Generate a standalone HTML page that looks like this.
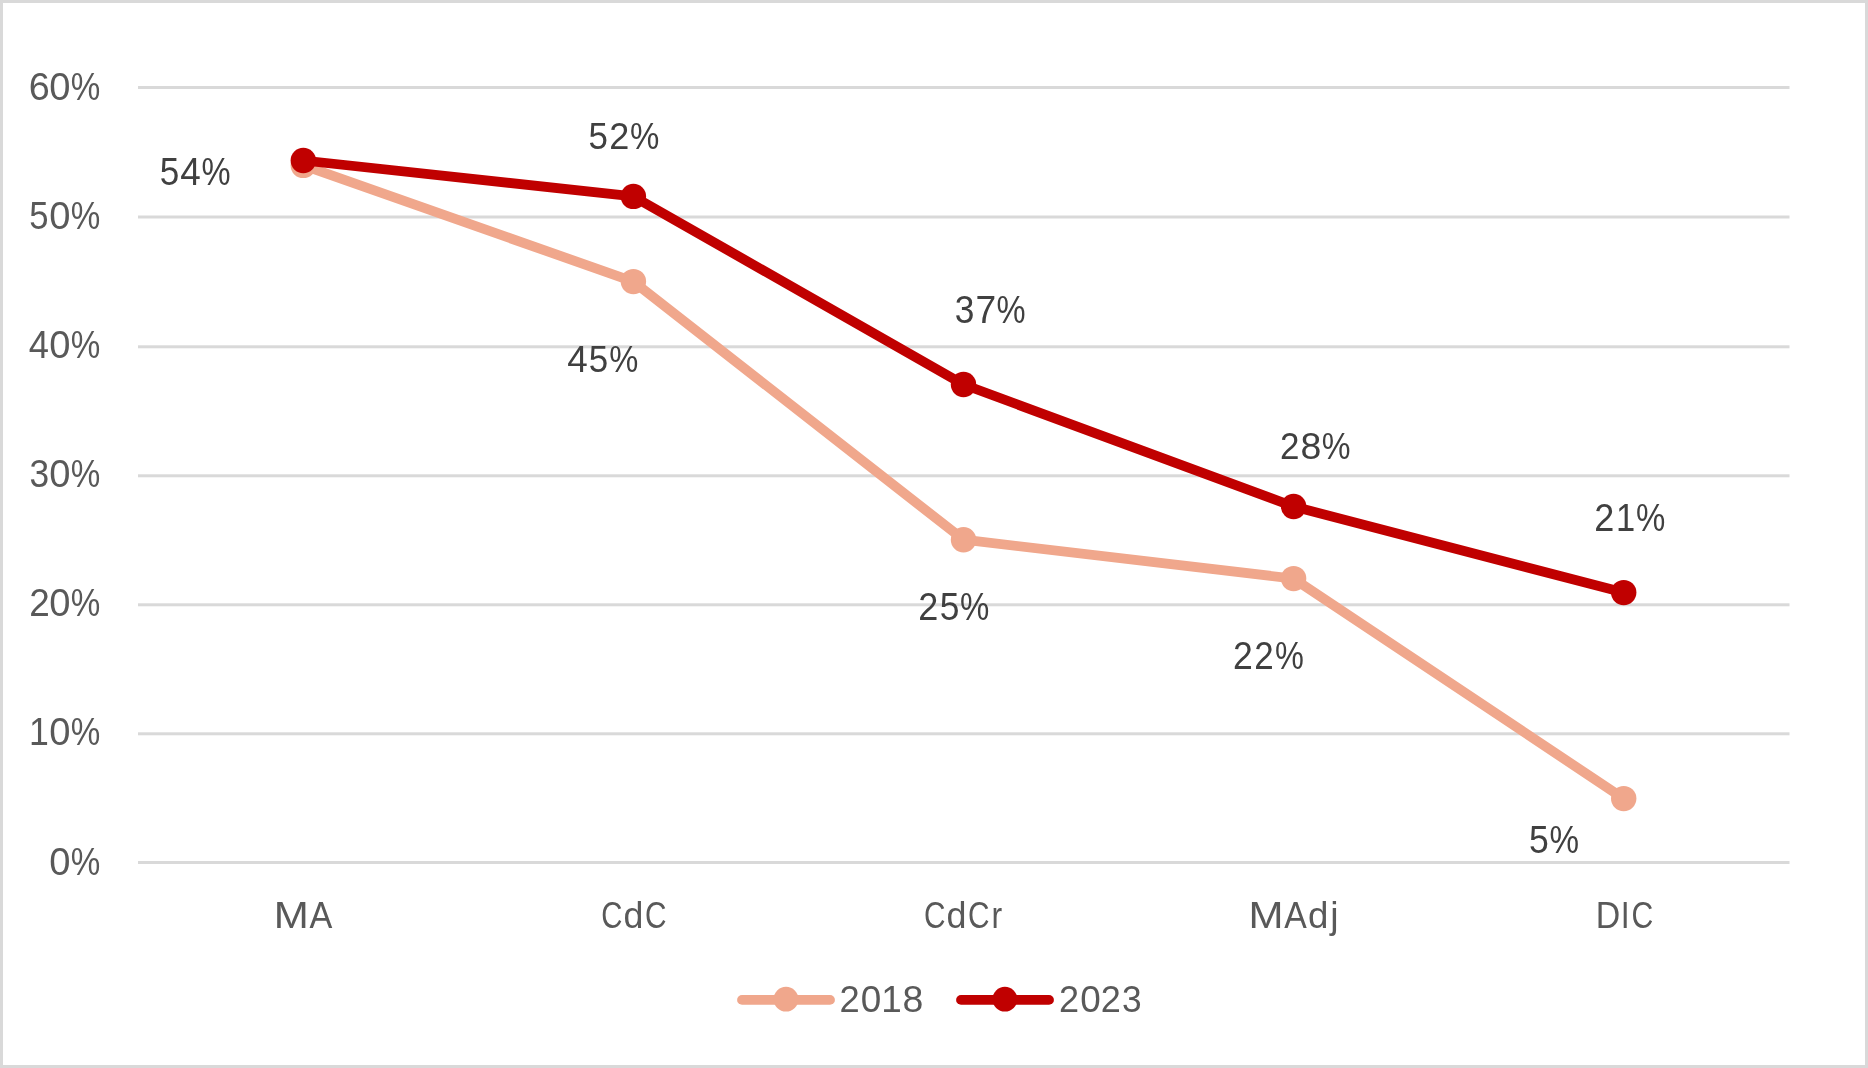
<!DOCTYPE html>
<html><head><meta charset="utf-8"><title>Chart</title>
<style>html,body{margin:0;padding:0;background:#fff;overflow:hidden;}svg{display:block;will-change:transform;}text{font-family:"Liberation Sans",sans-serif;font-size:100px;}</style>
</head><body>
<svg width="1868" height="1068" viewBox="0 0 1868 1068">
<rect x="1.5" y="1.5" width="1865" height="1065" fill="#fff" stroke="#D9D9D9" stroke-width="3"/>
<rect x="138" y="86.00" width="1651.5" height="3" fill="#D9D9D9"/>
<rect x="138" y="215.50" width="1651.5" height="3" fill="#D9D9D9"/>
<rect x="138" y="345.30" width="1651.5" height="3" fill="#D9D9D9"/>
<rect x="138" y="474.30" width="1651.5" height="3" fill="#D9D9D9"/>
<rect x="138" y="603.30" width="1651.5" height="3" fill="#D9D9D9"/>
<rect x="138" y="732.30" width="1651.5" height="3" fill="#D9D9D9"/>
<rect x="138" y="861.00" width="1651.5" height="3" fill="#D9D9D9"/>
<g fill="#595959" aria-label="60%"><text transform="matrix(0.37826 0 0 0.38028 28.81 99.62)">6</text><text transform="matrix(0.38125 0 0 0.38028 49.37 99.62)">0</text><text transform="matrix(0.33210 0 0 0.38028 70.67 99.62)">%</text></g>
<g fill="#595959" aria-label="50%"><text transform="matrix(0.34681 0 0 0.38028 29.31 228.79)">5</text><text transform="matrix(0.38125 0 0 0.38028 49.37 228.79)">0</text><text transform="matrix(0.33210 0 0 0.38028 70.67 228.79)">%</text></g>
<g fill="#595959" aria-label="40%"><text transform="matrix(0.36275 0 0 0.38028 28.87 357.95)">4</text><text transform="matrix(0.38125 0 0 0.38028 49.37 357.95)">0</text><text transform="matrix(0.33210 0 0 0.38028 70.67 357.95)">%</text></g>
<g fill="#595959" aria-label="30%"><text transform="matrix(0.35319 0 0 0.38028 29.59 487.12)">3</text><text transform="matrix(0.38125 0 0 0.38028 49.37 487.12)">0</text><text transform="matrix(0.33210 0 0 0.38028 70.67 487.12)">%</text></g>
<g fill="#595959" aria-label="20%"><text transform="matrix(0.36957 0 0 0.38028 29.15 616.29)">2</text><text transform="matrix(0.38125 0 0 0.38028 49.37 616.29)">0</text><text transform="matrix(0.33210 0 0 0.38028 70.67 616.29)">%</text></g>
<g fill="#595959" aria-label="10%"><text transform="matrix(0.35667 0 0 0.38028 28.98 745.45)">1</text><text transform="matrix(0.38125 0 0 0.38028 49.37 745.45)">0</text><text transform="matrix(0.33210 0 0 0.38028 70.67 745.45)">%</text></g>
<g fill="#595959" aria-label="0%"><text transform="matrix(0.38125 0 0 0.38028 49.37 874.62)">0</text><text transform="matrix(0.33210 0 0 0.38028 70.67 874.62)">%</text></g>
<g fill="#595959" aria-label="MA"><text transform="matrix(0.42090 0 0 0.37391 273.73 927.80)">M</text><text transform="matrix(0.34242 0 0 0.37391 309.40 927.80)">A</text></g>
<g fill="#595959" aria-label="CdC"><text transform="matrix(0.29365 0 0 0.37391 601.33 927.80)">C</text><text transform="matrix(0.35710 0 0 0.37391 623.44 927.80)">d</text><text transform="matrix(0.29841 0 0 0.37391 645.11 927.80)">C</text></g>
<g fill="#595959" aria-label="CdCr"><text transform="matrix(0.29841 0 0 0.37246 923.91 927.70)">C</text><text transform="matrix(0.35887 0 0 0.37246 946.39 927.70)">d</text><text transform="matrix(0.29841 0 0 0.37246 968.01 927.70)">C</text><text transform="matrix(0.32042 0 0 0.37246 991.60 927.70)">r</text></g>
<g fill="#595959" aria-label="MAdj"><text transform="matrix(0.42016 0 0 0.37391 1248.46 927.80)">M</text><text transform="matrix(0.33788 0 0 0.37391 1284.20 927.80)">A</text><text transform="matrix(0.36667 0 0 0.37391 1308.03 927.80)">d</text><text transform="matrix(0.37515 0 0 0.37391 1330.31 927.80)">j</text></g>
<g fill="#595959" aria-label="DIC"><text transform="matrix(0.33898 0 0 0.37391 1595.79 927.80)">D</text><text transform="matrix(0.32029 0 0 0.37391 1620.82 927.80)">I</text><text transform="matrix(0.30159 0 0 0.37391 1631.49 927.80)">C</text></g>
<polyline points="303.3,165.4 633.4,281.6 963.5,539.7 1293.6,578.6 1623.7,798.6" fill="none" stroke="#F0A78C" stroke-width="9.8" stroke-linejoin="round" stroke-linecap="round"/><circle cx="303.3" cy="165.4" r="12.7" fill="#F0A78C"/><circle cx="633.4" cy="281.6" r="12.7" fill="#F0A78C"/><circle cx="963.5" cy="539.7" r="12.7" fill="#F0A78C"/><circle cx="1293.6" cy="578.6" r="12.7" fill="#F0A78C"/><circle cx="1623.7" cy="798.6" r="12.7" fill="#F0A78C"/>
<polyline points="303.3,160.5 633.4,196.4 963.5,384.5 1293.6,506.5 1623.7,592.6" fill="none" stroke="#C00000" stroke-width="9.8" stroke-linejoin="round" stroke-linecap="round"/><circle cx="303.3" cy="160.5" r="12.7" fill="#C00000"/><circle cx="633.4" cy="196.4" r="12.7" fill="#C00000"/><circle cx="963.5" cy="384.5" r="12.7" fill="#C00000"/><circle cx="1293.6" cy="506.5" r="12.7" fill="#C00000"/><circle cx="1623.7" cy="592.6" r="12.7" fill="#C00000"/>
<g fill="#404040" aria-label="54%"><text transform="matrix(0.35106 0 0 0.37887 159.80 184.52)">5</text><text transform="matrix(0.36863 0 0 0.37887 180.36 184.52)">4</text><text transform="matrix(0.32716 0 0 0.37887 201.39 184.52)">%</text></g>
<g fill="#404040" aria-label="52%"><text transform="matrix(0.34894 0 0 0.37606 588.50 149.32)">5</text><text transform="matrix(0.36087 0 0 0.37606 609.30 149.32)">2</text><text transform="matrix(0.32963 0 0 0.37606 629.98 149.32)">%</text></g>
<g fill="#404040" aria-label="45%"><text transform="matrix(0.36863 0 0 0.37606 567.16 371.52)">4</text><text transform="matrix(0.34894 0 0 0.37606 588.70 371.52)">5</text><text transform="matrix(0.32716 0 0 0.37606 609.29 371.52)">%</text></g>
<g fill="#404040" aria-label="37%"><text transform="matrix(0.35319 0 0 0.37887 954.69 322.62)">3</text><text transform="matrix(0.37174 0 0 0.37887 975.44 322.62)">7</text><text transform="matrix(0.32716 0 0 0.37887 996.39 322.62)">%</text></g>
<g fill="#404040" aria-label="25%"><text transform="matrix(0.36087 0 0 0.38028 918.30 619.62)">2</text><text transform="matrix(0.35319 0 0 0.38028 939.69 619.62)">5</text><text transform="matrix(0.32963 0 0 0.38028 959.98 619.62)">%</text></g>
<g fill="#404040" aria-label="28%"><text transform="matrix(0.35000 0 0 0.37606 1280.05 459.32)">2</text><text transform="matrix(0.37447 0 0 0.37606 1300.50 459.32)">8</text><text transform="matrix(0.32346 0 0 0.37606 1321.71 459.32)">%</text></g>
<g fill="#404040" aria-label="22%"><text transform="matrix(0.35652 0 0 0.38028 1233.12 668.62)">2</text><text transform="matrix(0.35000 0 0 0.38028 1254.35 668.62)">2</text><text transform="matrix(0.32469 0 0 0.38028 1275.00 668.62)">%</text></g>
<g fill="#404040" aria-label="21%"><text transform="matrix(0.36087 0 0 0.38028 1594.30 530.62)">2</text><text transform="matrix(0.34525 0 0 0.38028 1615.92 530.62)">1</text><text transform="matrix(0.32963 0 0 0.38028 1635.98 530.62)">%</text></g>
<g fill="#404040" aria-label="5%"><text transform="matrix(0.35532 0 0 0.37887 1529.08 852.52)">5</text><text transform="matrix(0.33210 0 0 0.37887 1549.57 852.52)">%</text></g>
<g fill="#595959" aria-label="2018"><text transform="matrix(0.36304 0 0 0.37606 839.48 1011.52)">2</text><text transform="matrix(0.36875 0 0 0.37606 860.73 1011.52)">0</text><text transform="matrix(0.36875 0 0 0.37606 881.32 1011.52)">1</text><text transform="matrix(0.37447 0 0 0.37606 902.50 1011.52)">8</text></g>
<g fill="#595959" aria-label="2023"><text transform="matrix(0.36087 0 0 0.37606 1059.00 1011.52)">2</text><text transform="matrix(0.36875 0 0 0.37606 1080.23 1011.52)">0</text><text transform="matrix(0.36087 0 0 0.37606 1100.80 1011.52)">2</text><text transform="matrix(0.35319 0 0 0.37606 1121.99 1011.52)">3</text></g>
<line x1="742" y1="999.9" x2="830" y2="999.9" stroke="#F0A78C" stroke-width="9.8" stroke-linecap="round"/><circle cx="786" cy="999.2" r="12.4" fill="#F0A78C"/>
<line x1="961" y1="999.9" x2="1049" y2="999.9" stroke="#C00000" stroke-width="9.8" stroke-linecap="round"/><circle cx="1004.9" cy="999.2" r="12.4" fill="#C00000"/>
</svg>
</body></html>
